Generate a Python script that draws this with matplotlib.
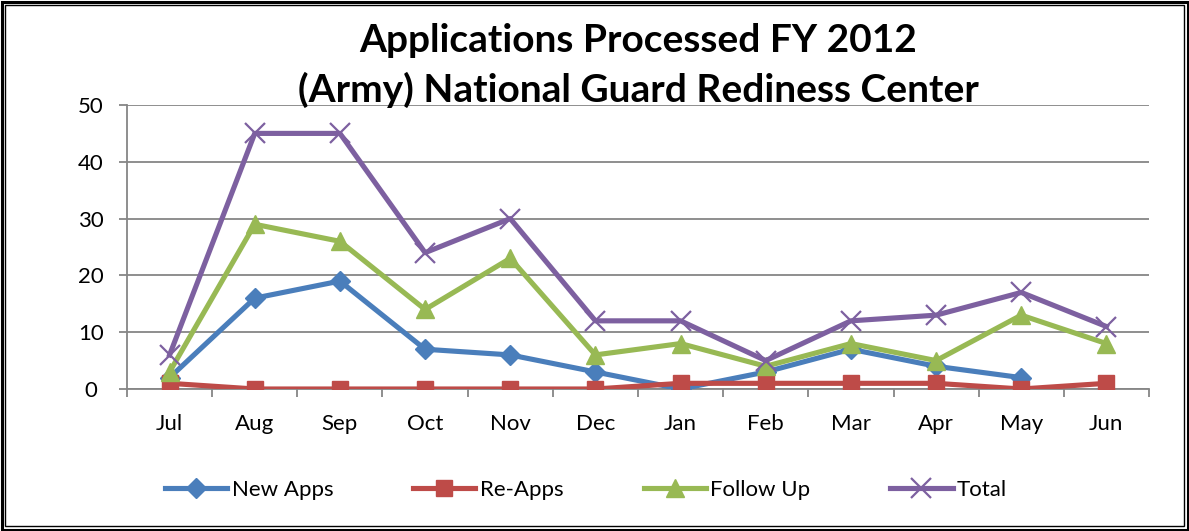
import numpy as np
import matplotlib
matplotlib.use('Agg')
import matplotlib.pyplot as plt
from matplotlib.patches import Rectangle

plt.rcParams['font.family'] = ['Lato', 'DejaVu Sans']

months = ['Jul', 'Aug', 'Sep', 'Oct', 'Nov', 'Dec', 'Jan', 'Feb', 'Mar', 'Apr', 'May', 'Jun']
new_apps = [2, 16, 19, 7, 6, 3, 0, 3, 7, 4, 2, np.nan]
re_apps = [1, 0, 0, 0, 0, 0, 1, 1, 1, 1, 0, 1]
follow_up = [3, 29, 26, 14, 23, 6, 8, 4, 8, 5, 13, 8]
total = [6, 45, 45, 24, 30, 12, 12, 5, 12, 13, 17, 11]

W, H = 1189, 531
fig = plt.figure(figsize=(W / 100, H / 100), dpi=100)

# double border round the whole chart
fig.add_artist(Rectangle((1.5 / W, 1.5 / H), 1 - 3 / W, 1 - 3 / H, transform=fig.transFigure,
                         fill=False, lw=2.2, ec='black'))
fig.add_artist(Rectangle((5 / W, 5 / H), 1 - 10 / W, 1 - 10 / H, transform=fig.transFigure,
                         fill=False, lw=1.0, ec='black'))

ax = fig.add_axes([127 / W, 1 - 389 / H, 1022 / W, 284 / H])
x = np.arange(len(months))

lw = 3.7
ax.plot(x, new_apps, color='#4A7EBB', lw=lw, marker='D', ms=10, label='New Apps', zorder=3)
ax.plot(x, re_apps, color='#BE4B48', lw=lw, marker='s', ms=12, label='Re-Apps', zorder=3)
ax.plot(x, follow_up, color='#98B954', lw=lw, marker='^', ms=13, label='Follow Up', zorder=3)
ax.plot(x, total, color='#7D60A0', lw=lw, marker='x', ms=14, mew=1.6, label='Total', zorder=3)

ax.set_xlim(-0.5, 11.5)
ax.set_ylim(0, 50)
ax.set_yticks(range(0, 51, 10))
ax.grid(axis='y', color='#868686', lw=1.3)
ax.set_axisbelow(True)

ax.set_xticks(x)
ax.set_xticklabels(months)
ax.set_xticks(np.arange(-0.5, 12, 1), minor=True)
ax.tick_params(axis='x', which='major', length=0, pad=18, labelsize=16)
ax.tick_params(axis='x', which='minor', length=6, width=1.3, color='#868686')
ax.tick_params(axis='y', length=6, width=1.3, color='#868686', labelsize=16, pad=20)
for lab in ax.get_yticklabels():
    lab.set_horizontalalignment('center')

for s in ['top', 'right']:
    ax.spines[s].set_visible(False)
for s in ['left', 'bottom']:
    ax.spines[s].set_color('#868686')
    ax.spines[s].set_linewidth(1.3)

fig.text(638 / W, 1 - 40 / H, 'Applications Processed FY 2012', ha='center', va='center',
         fontsize=28, fontweight='bold')
fig.text(638 / W, 1 - 90 / H, '(Army) National Guard Rediness Center', ha='center', va='center',
         fontsize=28, fontweight='bold')

fig.legend(loc='center', bbox_to_anchor=(586 / W, 1 - 490 / H), ncol=4, frameon=False,
           fontsize=16, handlelength=2.8, handletextpad=0.2, columnspacing=3.6)

fig.savefig('out.png', dpi=100)
